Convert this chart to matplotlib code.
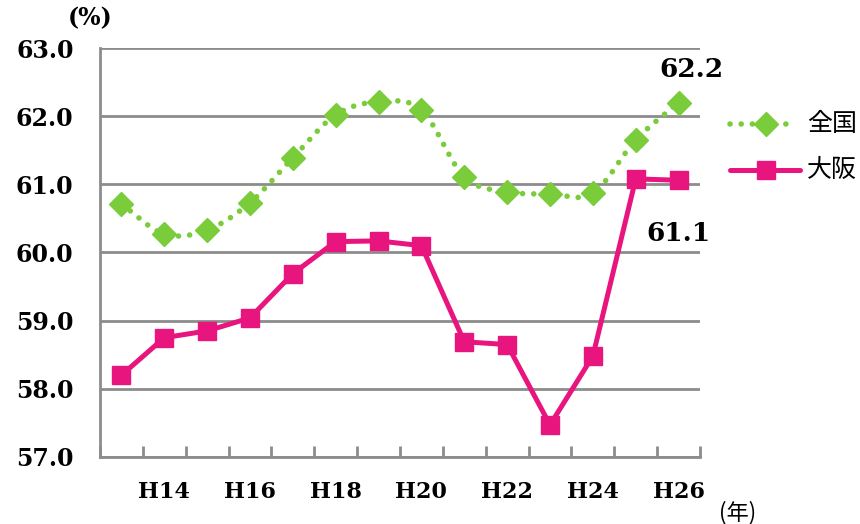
import numpy as np
import matplotlib
matplotlib.use('Agg')
import matplotlib.pyplot as plt
from matplotlib.ticker import FixedLocator, NullFormatter

# データ
years = ['H13', 'H14', 'H15', 'H16', 'H17', 'H18', 'H19',
         'H20', 'H21', 'H22', 'H23', 'H24', 'H25', 'H26']
zenkoku = [60.71, 60.27, 60.33, 60.73, 61.39, 62.02, 62.21,
           62.09, 61.11, 60.89, 60.86, 60.87, 61.65, 62.2]
osaka = [58.2, 58.75, 58.85, 59.04, 59.69, 60.16, 60.17,
         60.10, 58.69, 58.65, 57.47, 58.48, 61.08, 61.06]

GREEN = '#7ACC3A'
PINK = '#E8157E'
GRID = '#8C8C8C'
DOTS = (0, (0.01, 2.0))
serif_bold = dict(family='DejaVu Serif', weight='bold')
cjk = ['Noto Sans CJK JP', 'DejaVu Sans']


def smooth(x, y, n=20):
    # Catmull-Rom 曲線 (Excel の平滑線の代わり)
    x = np.asarray(x, float)
    y = np.asarray(y, float)
    px = np.concatenate([[2 * x[0] - x[1]], x, [2 * x[-1] - x[-2]]])
    py = np.concatenate([[2 * y[0] - y[1]], y, [2 * y[-1] - y[-2]]])
    t = np.linspace(0, 1, n, endpoint=False)
    xs, ys = [], []
    for i in range(1, len(px) - 2):
        for p, out in ((px, xs), (py, ys)):
            p0, p1, p2, p3 = p[i - 1], p[i], p[i + 1], p[i + 2]
            out.extend(0.5 * ((2 * p1) + (-p0 + p2) * t
                              + (2 * p0 - 5 * p1 + 4 * p2 - p3) * t ** 2
                              + (-p0 + 3 * p1 - 3 * p2 + p3) * t ** 3))
    xs.append(x[-1])
    ys.append(y[-1])
    return np.array(xs), np.array(ys)


fig = plt.figure(figsize=(8.6, 5.24), dpi=100)
ax = fig.add_axes([100 / 860, 67 / 524, 600 / 860, 409 / 524])

x = np.arange(len(years))

# 全国 (点線・平滑)
sx, sy = smooth(x, zenkoku)
ax.plot(sx, sy, color=GREEN, lw=4.0, ls=DOTS,
        dash_capstyle='round', zorder=3)
ax.plot(x, zenkoku, ls='none', marker='D', ms=12, color=GREEN, zorder=4)

# 大阪
ax.plot(x, osaka, color=PINK, lw=3.6, marker='s', ms=13, zorder=5)

ax.set_xlim(-0.5, len(years) - 0.5)
ax.set_ylim(57.0, 63.0)

ax.set_yticks(np.arange(57.0, 63.01, 1.0))
ax.set_yticklabels(['%.1f' % v for v in np.arange(57.0, 63.01, 1.0)],
                   fontsize=17, **serif_bold)
ax.tick_params(axis='y', length=0, pad=19)
ax.yaxis.grid(True, color=GRID, lw=2)
ax.set_axisbelow(True)

# x軸の目盛り: 区切りに目盛り線、1年おきにラベル
ax.xaxis.set_major_locator(FixedLocator(np.arange(-0.5, len(years), 1.0)))
ax.xaxis.set_major_formatter(NullFormatter())
ax.xaxis.set_minor_locator(FixedLocator(x[1::2]))
ax.set_xticklabels(years[1::2], minor=True, fontsize=16, **serif_bold)
ax.tick_params(axis='x', which='major', direction='in', length=8,
               width=2, color=GRID)
ax.tick_params(axis='x', which='minor', length=0, pad=17)

for s in ['top', 'right']:
    ax.spines[s].set_visible(False)
for s in ['left', 'bottom']:
    ax.spines[s].set_color(GRID)
    ax.spines[s].set_linewidth(2)

# 数値ラベル
ax.annotate('%.1f' % zenkoku[-1], (x[-1], zenkoku[-1]), xytext=(9, 24),
            textcoords='offset points', ha='center', va='center',
            fontsize=19, **serif_bold)
ax.annotate('%.1f' % osaka[-1], (x[-1], osaka[-1]), xytext=(0, -38),
            textcoords='offset points', ha='center', va='center',
            fontsize=19, **serif_bold)

fig.text(90 / 860, 1 - 18 / 524, '(%)', ha='center', va='center',
         fontsize=17, **serif_bold)
fig.text(738 / 860, 1 - 513 / 524, '(年)', ha='center', va='center',
         fontsize=16, family=cjk)

# 凡例
leg_ax = fig.add_axes([720 / 860, 0.6, 140 / 860, 0.25])
leg_ax.set_xlim(0, 140)
leg_ax.set_ylim(0, 131)
leg_ax.axis('off')
leg_ax.plot([10, 72], [86, 86], color=GREEN, lw=4.0, ls=DOTS,
            dash_capstyle='round')
leg_ax.plot([46], [86], marker='D', ms=12, color=GREEN, ls='none')
leg_ax.plot([10, 80], [40, 40], color=PINK, lw=3.6, marker='none',
            solid_capstyle='round')
leg_ax.plot([46], [40], marker='s', ms=13, color=PINK, ls='none')
leg_ax.text(87, 86, '全国', fontsize=18, family=cjk, va='center')
leg_ax.text(87, 40, '大阪', fontsize=18, family=cjk, va='center')

fig.savefig('out.png', dpi=100)
